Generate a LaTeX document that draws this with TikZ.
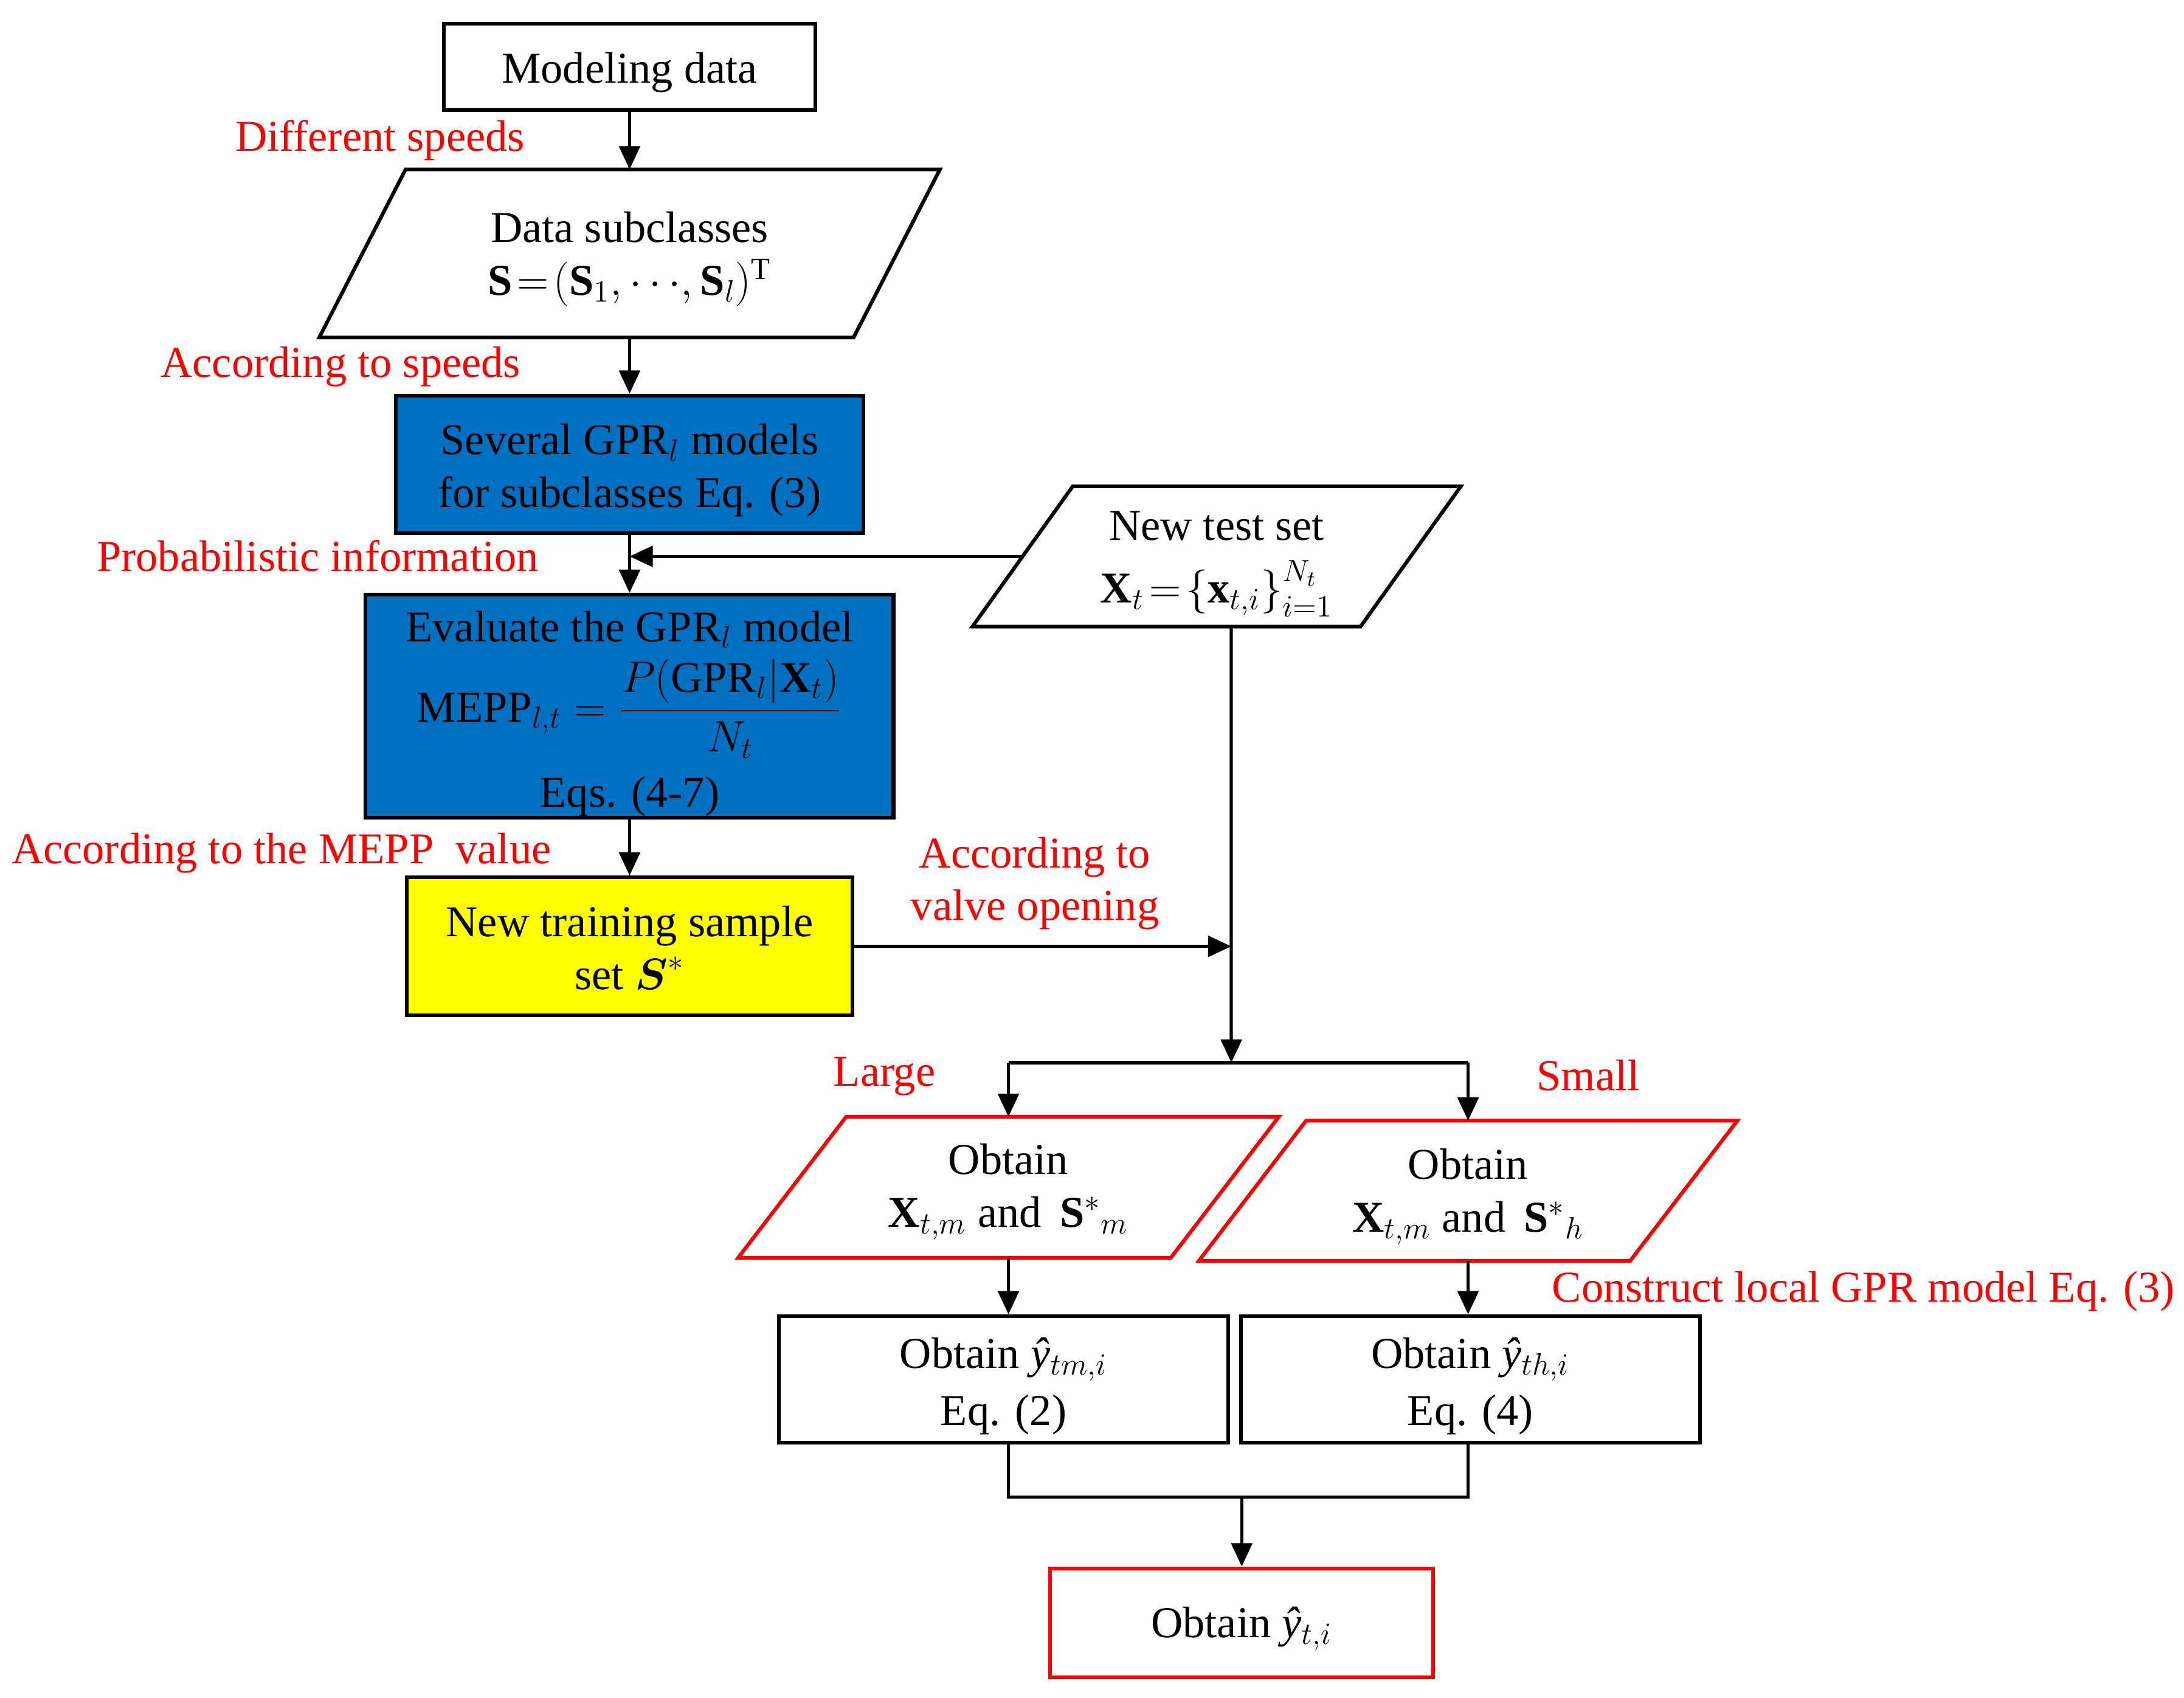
\RequirePackage{fix-cm}
\documentclass[tikz,border=0pt]{standalone}
\usepackage{amsmath}
\usepackage{fontspec}
\setmainfont{Liberation Serif}
\usetikzlibrary{arrows.meta,calc}
\definecolor{boxblue}{RGB}{0,112,192}
\definecolor{redline}{RGB}{255,0,0}
\definecolor{yelfill}{RGB}{255,255,0}
\newcommand{\drawpara}[3]{\draw[#3] ([xshift=#2]#1.north west) -- ([xshift=#2]#1.north east) -- ([xshift=-#2]#1.south east) -- ([xshift=-#2]#1.south west) -- cycle;}
\newcommand{\tstrut}[1]{\rule{0pt}{#1}}
\newcommand{\yhat}[1]{{\itshape ŷ}$_{#1}$}
\tikzset{
  basetxt/.style={font=\fontsize{18}{21.6}\selectfont, align=center, inner sep=0pt},
  topstrut/.style={execute at begin node={\rule{0pt}{#1}}},
  box/.style={basetxt, draw, line width=1.5pt, rectangle, topstrut=17pt},
  paranode/.style={basetxt, rectangle},
  lbl/.style={basetxt, text=redline},
  arr/.style={line width=1.3pt, -{Triangle[length=9.5pt,width=8.5pt]}},
  ln/.style={line width=1.3pt},
  paraline/.style={line width=1.5pt, line join=miter},
}
\begin{document}
\begin{tikzpicture}[x=0.02cm,y=-0.02cm]
\useasboundingbox (0,0) rectangle (1568,1219.2);

% main column
\node[box, minimum width=5.34cm, minimum height=1.24cm] (md) at (452,48) {Modeling data};
\node[paranode, minimum width=7.66cm, minimum height=2.4cm] (ds) at (452,182)
  {\tstrut{16.9pt}Data subclasses\\ $\mathbf{S}\!=\!(\mathbf{S}_1,\cdots\!,\mathbf{S}_l)^{\mathrm{T}}$};
\drawpara{ds}{0.62cm}{paraline}
\node[box, fill=boxblue, minimum width=6.72cm, minimum height=1.98cm] (gpr) at (452,333.5)
  {\tstrut{17.4pt}Several GPR$_l$ models\\for subclasses Eq. (3)};
\node[box, fill=boxblue, minimum width=7.58cm, minimum height=3.2cm] (ev) at (452,507)
  {\tstrut{18.6pt}Evaluate the GPR$_l$ model\\[3.4pt] $\mathrm{MEPP}_{l,t}=\dfrac{P(\mathrm{GPR}_l|\mathbf{X}_t)}{N_t}$\\[6.3pt] Eqs. (4-7)};
\node[box, fill=yelfill, minimum width=6.4cm, minimum height=1.98cm] (nt) at (452,679.5)
  {\tstrut{14pt}New training sample\\set $\boldsymbol{S}^{*}$};

% test set
\node[paranode, minimum width=5.56cm, minimum height=2.0cm] (ts) at (873.5,399.5)
  {\tstrut{18pt}New test set\\[4pt] $\mathbf{X}_t\!=\!\left\{\mathbf{x}_{t,i}\right\}_{i=1}^{N_t}$};
\drawpara{ts}{0.72cm}{paraline}
\coordinate (tsb) at ([xshift=0.21cm]ts.south);

% branches
\node[paranode, minimum width=6.2cm, minimum height=2.01cm] (pl) at (724,852.5)
  {\tstrut{16.3pt}Obtain\\ $\mathbf{X}_{t,m}$ and\, ${\mathbf{S}^{*}}_{m}$};
\drawpara{pl}{0.775cm}{paraline, draw=redline}
\node[paranode, minimum width=6.18cm, minimum height=2.0cm] (pr) at (1054,855)
  {\tstrut{17.4pt}Obtain\\ $\mathbf{X}_{t,m}$ and\, ${\mathbf{S}^{*}}_{h}$};
\drawpara{pr}{0.77cm}{paraline, draw=redline}
\node[box, minimum width=6.46cm, minimum height=1.82cm] (bl) at (720.5,990.5)
  {\tstrut{18pt}Obtain \yhat{tm,i}\\[1.7pt]Eq. (2)};
\node[box, minimum width=6.59cm, minimum height=1.82cm] (br) at (1055.7,990.5)
  {\tstrut{18pt}Obtain \yhat{th,i}\\[1.7pt]Eq. (4)};
\node[box, draw=redline, minimum width=5.5cm, minimum height=1.57cm] (fb) at (891.5,1165.3)
  {Obtain \yhat{t,i}};

\coordinate (split) at (884,763);
\coordinate (join) at (890,1075);

% connectors
\draw[arr] (md.south) -- (ds.north);
\draw[arr] (ds.south) -- (gpr.north);
\draw[arr] (gpr.south) -- (ev.north);
\draw[arr] (ev.south) -- (nt.north);
\draw[arr] (ts.west) -- (ts.west -| ev.north);
\draw[arr] (tsb) -- (split);
\draw[arr] (nt.east) -- (nt.east -| tsb);
\draw[ln] (split -| pl.north) -- (split -| pr.north);
\draw[arr] (split -| pl.north) -- (pl.north);
\draw[arr] (split -| pr.north) -- (pr.north);
\draw[arr] (pl.south) -- (pl.south |- bl.north);
\draw[arr] (pr.south) -- (pr.south |- br.north);
\draw[ln] (pl.south |- bl.south) -- (pl.south |- join) -- (pr.south |- join) -- (pr.south |- br.south);
\draw[arr] (fb.north |- join) -- (fb.north);

% labels
\node[lbl, anchor=base east] (l1) at (377,108.5) {Different speeds};
\node[lbl, anchor=base east] (l2) at (374,271) {According to speeds};
\node[lbl, anchor=base east] (l3) at (387,410) {Probabilistic information};
\node[lbl, anchor=base east] (l4) at (396,620) {According to the MEPP\ \ value};
\node[lbl, font=\fontsize{18}{21.4}\selectfont] (l5) at (743,634.5) {According to\\valve opening};
\node[lbl, anchor=base west] (l6) at (598,780) {Large};
\node[lbl, anchor=base west] (l7) at (1103,783) {Small};
\node[lbl, anchor=base west] (l8) at (1114,935) {Construct local GPR model Eq. (3)};
\end{tikzpicture}
\end{document}
